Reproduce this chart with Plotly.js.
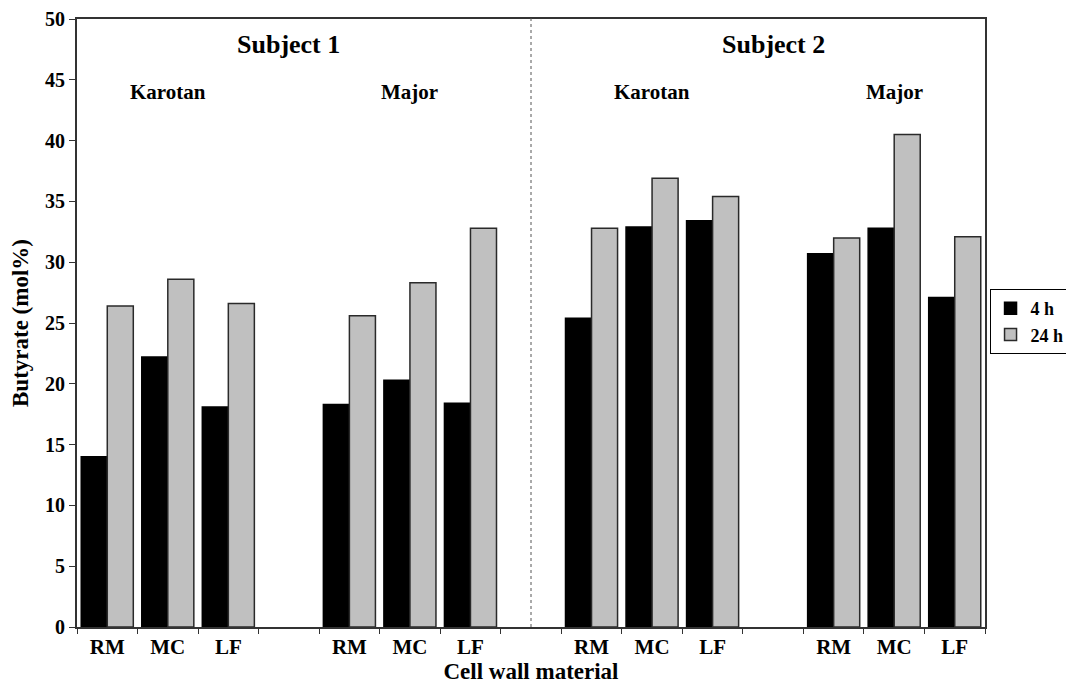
<!DOCTYPE html>
<html>
<head>
<meta charset="utf-8">
<script src="https://cdn.plot.ly/plotly-3.0.1.min.js"></script>
<style>html,body{margin:0;padding:0;background:#fff;}#chart{width:1066px;height:684px;}</style>
</head>
<body>
<div id="chart"></div>
<script>
// Category slots (gaps between groups are empty slots)
const categories = ['RM','MC','LF','','RM','MC','LF','','RM','MC','LF','','RM','MC','LF'];
const butyrate4h  = [14.0, 22.2, 18.1, null, 18.3, 20.3, 18.4, null, 25.4, 32.9, 33.4, null, 30.7, 32.8, 27.1];
const butyrate24h = [26.4, 28.6, 26.6, null, 25.6, 28.3, 32.8, null, 32.8, 36.9, 35.4, null, 32.0, 40.5, 32.1];
const seriesNames = ['4 h', '24 h'];
const yTicks = [0,5,10,15,20,25,30,35,40,45,50];

const positions = categories.map((c, i) => i);
const boundaries = categories.map((c, i) => i - 0.5).concat([categories.length - 0.5]);

const serif = 'Liberation Serif, Times New Roman, serif';

const traces = [
  {type: 'bar', name: seriesNames[0], x: positions, y: butyrate4h,
   marker: {color: '#000000', line: {color: '#000000', width: 1.5}}},
  {type: 'bar', name: seriesNames[1], x: positions, y: butyrate24h,
   marker: {color: '#c0c0c0', line: {color: '#2a2a2a', width: 1.5}}},
  {type: 'scatter', x: [0], y: [null], xaxis: 'x2', showlegend: false, hoverinfo: 'skip'}
];

const xr = [-0.5, categories.length - 0.5];

const layout = {
  width: 1066, height: 684,
  margin: {l: 77, r: 81, t: 19, b: 57, autoexpand: false},
  paper_bgcolor: '#ffffff', plot_bgcolor: '#ffffff',
  barmode: 'group', bargap: 0.14, bargroupgap: 0,
  font: {family: serif, color: '#000'},
  showlegend: true,
  legend: {x: 1.005, y: 0.556, xanchor: 'left', yanchor: 'top',
           bordercolor: '#000', borderwidth: 1, bgcolor: '#fff',
           font: {family: serif, size: 18, weight: 'bold', color: '#000'},
           tracegroupgap: 2, itemwidth: 30},
  xaxis: {range: xr, tickmode: 'array', tickvals: positions, ticktext: categories,
          ticks: '', showgrid: false, zeroline: false,
          showline: true, linecolor: '#333', linewidth: 2, mirror: true,
          tickfont: {family: serif, size: 21, weight: 'bold', color: '#000'},
          title: {text: 'Cell wall material', font: {family: serif, size: 23, weight: 'bold', color: '#000'}, standoff: 4}},
  xaxis2: {range: xr, overlaying: 'x', anchor: 'y', side: 'bottom',
           tickmode: 'array', tickvals: boundaries, ticks: 'outside', ticklen: 6, tickwidth: 1, tickcolor: '#333',
           showticklabels: false, showgrid: false, zeroline: false, showline: false},
  yaxis: {range: [0, 50], tickmode: 'array', tickvals: yTicks,
          ticks: 'outside', ticklen: 6, tickcolor: '#333', tickwidth: 1,
          showgrid: false, zeroline: false,
          showline: true, linecolor: '#333', linewidth: 2, mirror: true,
          tickfont: {family: serif, size: 20, weight: 'bold', color: '#000'},
          title: {text: 'Butyrate (mol%)', font: {family: serif, size: 23, weight: 'bold', color: '#000'}, standoff: 10}},
  shapes: [
    {type: 'line', xref: 'x', yref: 'paper', x0: 7, x1: 7, y0: 0, y1: 1.006,
     line: {color: '#555', width: 1, dash: 'dot'}}
  ],
  annotations: [
    {text: 'Subject 1', x: 3, y: 47.9, xref: 'x', yref: 'y', showarrow: false, font: {family: serif, size: 26, weight: 'bold', color: '#000'}},
    {text: 'Subject 2', x: 11, y: 47.9, xref: 'x', yref: 'y', showarrow: false, font: {family: serif, size: 26, weight: 'bold', color: '#000'}},
    {text: 'Karotan', x: 1, y: 44.0, xref: 'x', yref: 'y', showarrow: false, font: {family: serif, size: 21, weight: 'bold', color: '#000'}},
    {text: 'Major', x: 5, y: 44.0, xref: 'x', yref: 'y', showarrow: false, font: {family: serif, size: 21, weight: 'bold', color: '#000'}},
    {text: 'Karotan', x: 9, y: 44.0, xref: 'x', yref: 'y', showarrow: false, font: {family: serif, size: 21, weight: 'bold', color: '#000'}},
    {text: 'Major', x: 13, y: 44.0, xref: 'x', yref: 'y', showarrow: false, font: {family: serif, size: 21, weight: 'bold', color: '#000'}}
  ]
};

Plotly.newPlot('chart', traces, layout, {staticPlot: true, displayModeBar: false});
</script>
</body>
</html>
